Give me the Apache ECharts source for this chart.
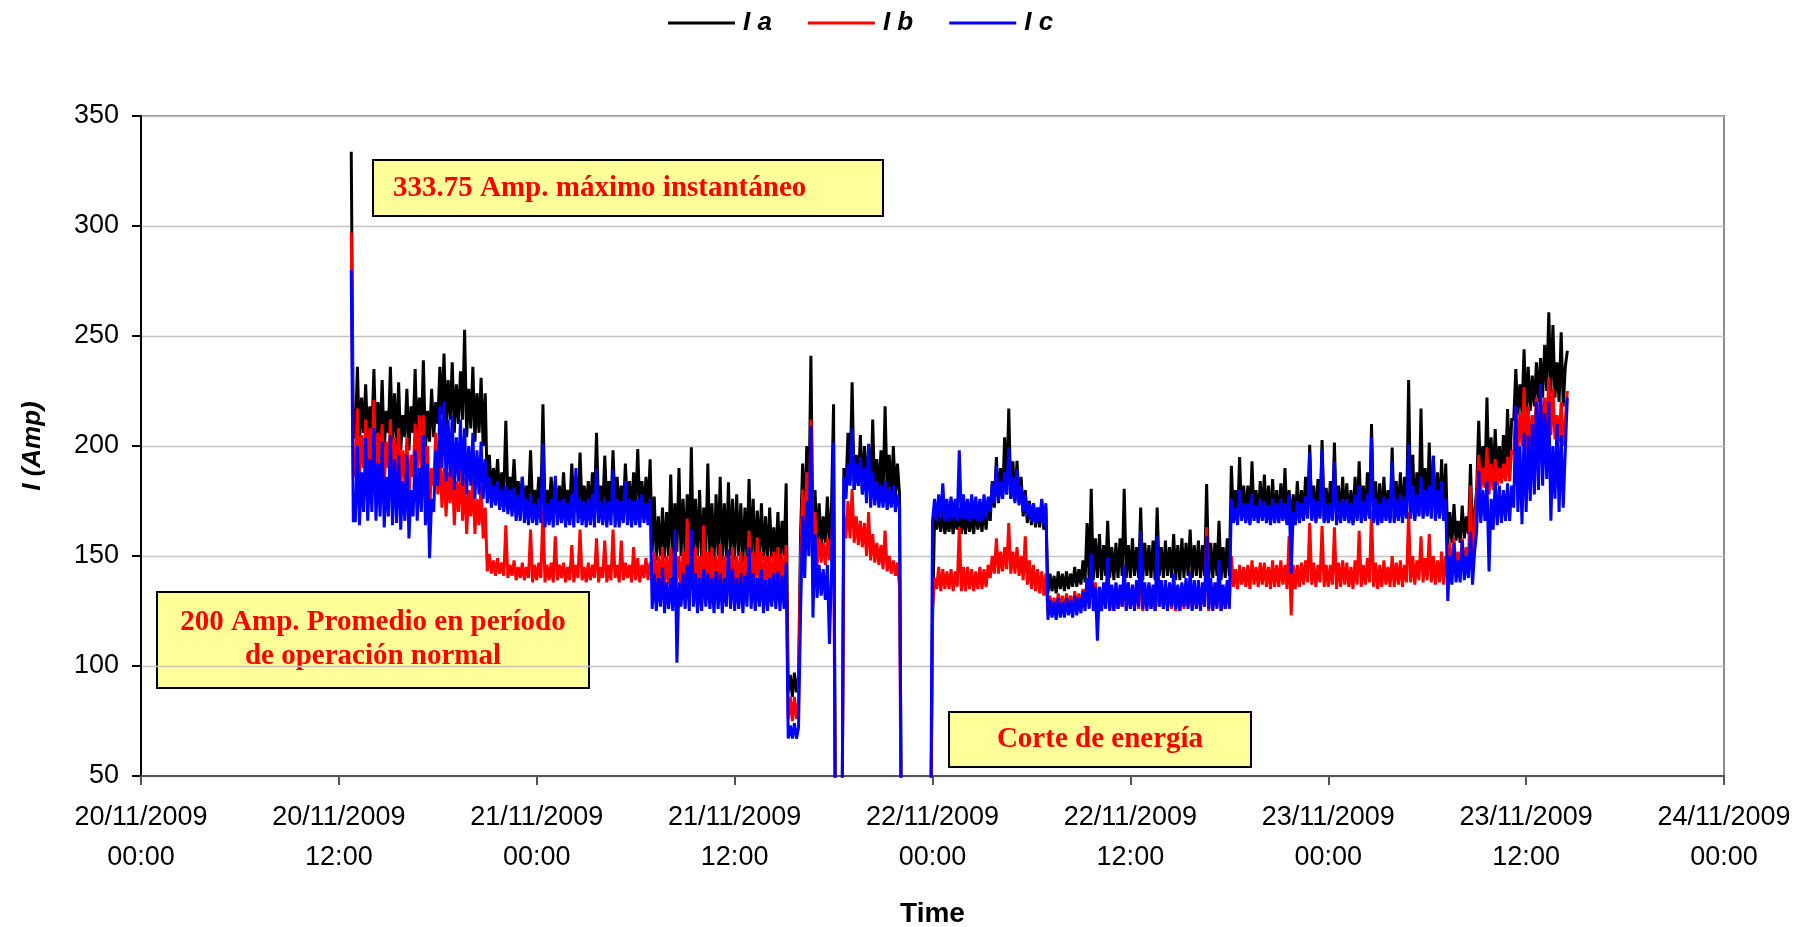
<!DOCTYPE html>
<html>
<head>
<meta charset="utf-8">
<title>Corriente por fase</title>
<script src="https://cdn.jsdelivr.net/npm/echarts@6/dist/echarts.min.js"></script>
<style>
  html, body { margin: 0; padding: 0; background: #fff; }
  #chart { width: 1816px; height: 927px; }
</style>
</head>
<body>
<div id="chart"></div>
<script>
// Phase currents (A), one reading every 7.5 min.
// Each line holds one hour (8 readings), hours counted from 20/11/2009 00:00.
const START_HOUR = 12;
const STEP_HOURS = 0.125;

const seriesNames = ['I a', 'I b', 'I c'];

const ia = [
  null, null, null, null, null, null, 333.75, 204,   // 12
  204, 236, 200, 222, 206, 228, 202, 218,            // 13
  205, 235, 200, 220, 204, 230, 198, 216,            // 14
  206, 236, 202, 224, 200, 229, 198, 214,            // 15
  204, 226, 198, 218, 206, 235, 200, 222,            // 16
  206, 239, 198, 216, 202, 226, 204, 220,            // 17
  210, 236, 214, 242, 208, 230, 212, 238,            // 18
  206, 228, 210, 234, 212, 252.8, 204, 226,          // 19
  208, 236, 202, 224, 206, 231, 200, 224,            // 20
  180, 196, 178, 190, 180, 194, 176, 188,            // 21
  178, 211.5, 176, 186, 178, 194, 174, 184,          // 22
  174, 186, 172, 182, 174, 198, 171, 180,            // 23
  172, 186, 174, 219, 171, 180, 172, 186,            // 24
  170, 184, 172, 182, 171, 188, 172, 180,            // 25
  171, 192, 172, 186, 170, 197, 171, 182,            // 26
  172, 184, 170, 188, 173, 206, 171, 182,            // 27
  170, 195.6, 172, 184, 171, 198, 172, 186,          // 28
  171, 182, 170, 192, 172, 184, 170, 188,            // 29
  172, 198.6, 170, 184, 171, 186, 170, 194,          // 30
  152, 177, 148, 168, 150, 172, 149, 170,            // 31
  150, 187, 148, 174, 152, 190, 150, 176,            // 32
  149, 178, 151, 199.4, 148, 176, 150, 180,          // 33
  148, 172, 150, 192, 149, 174, 147, 178,            // 34
  150, 186, 148, 174, 149, 183.5, 150, 176,          // 35
  148, 178, 150, 174, 147, 172, 149, 185,            // 36
  149, 176, 147, 170.6, 150, 174, 148, 168,          // 37
  147, 172, 149, 163, 148, 170, 147, 166,            // 38
  150, 183, 88, 96, 86, 97, 88, 95,                  // 39
  160, 192, 164, 200, 170, 241, 158, 180,            // 40
  155, 174, 154, 168, 156, 177, 155, 172,            // 41
  219, 0, 0, 0, 0, 190, 180, 206,                    // 42
  184, 229, 180, 196, 182, 205, 178, 200,            // 43
  178, 200, 177, 212, 176, 194, 178, 198,            // 44
  177, 218, 178, 196, 176, 200, 177, 192,            // 45
  178, 0, 0, 0, 0, 0, 0, 0,                          // 46
  0, 0, 0, 0, 0, 0, 0, 0,                            // 47
  119, 168, 162, 170, 161, 171, 160, 168,            // 48
  161, 170, 160, 169, 162, 172, 160, 170,            // 49
  160, 171, 161, 169, 160, 172, 162, 170,            // 50
  161, 172, 162, 174, 166, 184, 172, 195,            // 51
  174, 190, 176, 204, 178, 217, 176, 193,            // 52
  175, 193.3, 174, 186, 168, 180, 165, 175,          // 53
  164, 174, 163, 172, 163, 175, 162, 172,            // 54
  133, 142, 134, 141, 133, 143, 135, 142,            // 55
  134, 143, 135, 142, 136, 145, 136, 144,            // 56
  137, 148, 138, 165, 139, 180.5, 139, 158,          // 57
  140, 160, 139, 155, 141, 166, 140, 154,            // 58
  139, 156, 140, 158, 141, 180.5, 140, 155,          // 59
  140, 158, 141, 154, 140, 172, 139, 156,            // 60
  141, 155, 140, 157, 139, 172, 141, 154,            // 61
  140, 157, 141, 154, 140, 160, 139, 155,            // 62
  139, 158, 140, 156, 141, 162, 140, 155,            // 63
  141, 157, 140, 155, 141, 182.7, 139, 156,          // 64
  140, 156, 141, 166, 139, 154, 140, 158,            // 65
  141, 191, 166, 180, 165, 195, 167, 182,            // 66
  166, 182, 165, 193, 167, 180, 166, 184,            // 67
  167, 187, 166, 182, 165, 185, 166, 180,            // 68
  166, 183, 167, 190, 165, 180, 164, 178,            // 69
  165, 184, 166, 180, 167, 186, 168, 200.6,          // 70
  167, 182, 166, 185, 168, 202.7, 166, 181,          // 71
  166, 184, 167, 201.6, 165, 182, 166, 186,          // 72
  167, 183, 166, 180, 165, 186, 167, 193,            // 73
  166, 182, 167, 188, 168, 210, 166, 184,            // 74
  165, 183, 166, 186, 167, 180, 166, 199.3,          // 75
  166, 184, 167, 188, 166, 186, 168, 230,            // 76
  168, 196, 167, 188, 169, 217, 168, 190,            // 77
  169, 201.6, 168, 195.6, 167, 188, 168, 194,        // 78
  167, 192, 155, 170, 156, 173.6, 157, 166,          // 79
  156, 172.9, 158, 168, 160, 191.8, 157, 170,        // 80
  180, 211.5, 182, 200, 184, 222, 181, 204,          // 81
  183, 207.7, 185, 200, 186, 205, 188, 216.8,        // 82
  190, 212, 212, 235, 214, 228, 215, 244,            // 83
  214, 236, 216, 232, 218, 238, 220, 240,            // 84
  222, 246, 225, 260.8, 224, 255, 222, 238,          // 85
  220, 251.7, 218, 236, 243.3, null, null, null      // 86
];

const ib = [
  null, null, null, null, null, null, 297, 186,      // 12
  188, 217, 184, 205, 190, 212, 186, 208,            // 13
  190, 221, 185, 206, 188, 210, 182, 202,            // 14
  190, 212, 186, 204, 184, 208, 180, 198,            // 15
  184, 204, 176, 196, 186, 210, 188, 214,            // 16
  186, 214, 180, 200, 170, 190, 182, 206,            // 17
  178, 196, 172, 190, 168, 188, 174, 192,            // 18
  164, 184, 170, 190, 166, 186, 160, 180,            // 19
  168, 186, 160, 176, 164, 182, 158, 172,            // 20
  143, 151, 142, 148, 141, 149, 142, 147,            // 21
  141, 164, 140, 146, 141, 148, 139, 145,            // 22
  140, 147, 139, 145, 140, 162, 138, 146,            // 23
  139, 147, 140, 172, 138, 146, 139, 147,            // 24
  138, 159, 139, 146, 140, 147, 138, 145,            // 25
  139, 155, 138, 146, 140, 162, 139, 145,            // 26
  138, 147, 139, 146, 140, 158, 138, 145,            // 27
  140, 157, 138, 146, 139, 162, 140, 146,            // 28
  138, 157, 139, 147, 140, 146, 138, 154,            // 29
  139, 149, 138, 146, 140, 149, 139, 147,            // 30
  138, 152, 136, 150, 137, 154, 135, 150,            // 31
  137, 154, 135, 158, 138, 150, 136, 152,            // 32
  136, 167, 137, 156, 135, 154, 136, 150,            // 33
  135, 164, 137, 152, 136, 154, 134, 150,            // 34
  136, 155.4, 135, 150, 137, 152, 136, 154,          // 35
  135, 150, 136, 152, 134, 150, 136, 161.5,          // 36
  136, 152, 135, 158.5, 137, 152, 135, 150,          // 37
  134, 150, 136, 152, 135, 154, 136, 151,            // 38
  136, 155, 76, 86, 75, 86, 76, 84,                  // 39
  150, 180, 156, 188, 158, 212, 150, 170,            // 40
  146, 158, 147, 156, 146, 158, 148, 156,            // 41
  175, 0, 0, 0, 0, 168, 158, 175,                    // 42
  158, 180.4, 156, 168, 155, 166, 154, 165,          // 43
  150, 170, 148, 160, 147, 156, 146, 155,            // 44
  144, 161.5, 143, 150, 142, 148, 141, 147,          // 45
  136, 0, 0, 0, 0, 0, 0, 0,                          // 46
  0, 0, 0, 0, 0, 0, 0, 0,                            // 47
  126, 140, 135, 145, 134, 144, 135, 143,            // 48
  135, 144, 134, 143, 136, 163, 134, 145,            // 49
  134, 145, 135, 144, 134, 143, 135, 145,            // 50
  135, 144, 136, 146, 140, 150, 142, 158,            // 51
  142, 152, 143, 154, 144, 165, 142, 152,            // 52
  142, 154, 141, 150, 139, 159, 137, 148,            // 53
  135, 146, 134, 144, 133, 143, 132, 142,            // 54
  124, 132, 125, 131, 124, 133, 125, 132,            // 55
  125, 133, 126, 132, 125, 134, 126, 133,            // 56
  126, 135, 127, 140, 127, 146, 128, 138,            // 57
  126, 136, 125, 135, 127, 138, 126, 136,            // 58
  125, 137, 126, 135, 127, 140, 126, 136,            // 59
  126, 136, 127, 138, 126, 144, 125, 136,            // 60
  127, 137, 126, 136, 125, 139, 127, 135,            // 61
  126, 136, 127, 137, 126, 138, 125, 136,            // 62
  125, 137, 126, 136, 127, 139, 126, 135,            // 63
  127, 136, 126, 137, 127, 163, 125, 138,            // 64
  126, 137, 127, 139, 125, 136, 126, 138,            // 65
  127, 150, 136, 144, 135, 146, 137, 145,            // 66
  136, 146, 135, 148, 137, 145, 136, 147,            // 67
  137, 147, 136, 145, 135, 148, 136, 146,            // 68
  136, 148, 137, 146, 135, 159, 123, 146,            // 69
  135, 146, 136, 147, 137, 148, 138, 165,            // 70
  137, 147, 136, 146, 138, 163.7, 136, 146,          // 71
  136, 146, 137, 163, 135, 147, 136, 148,            // 72
  137, 147, 136, 145, 135, 148, 137, 161.5,          // 73
  136, 146, 137, 149, 138, 170.6, 136, 147,          // 74
  135, 146, 136, 148, 137, 145, 136, 150,            // 75
  136, 147, 137, 148, 136, 146, 138, 170,            // 76
  138, 150, 137, 148, 139, 159, 138, 149,            // 77
  139, 160, 138, 150, 137, 148, 138, 152,            // 78
  137, 150, 140, 156, 141, 158, 142, 152,            // 79
  143, 158, 144, 154, 145, 182, 142, 160,            // 80
  178, 196, 180, 190, 181, 199.4, 178, 192,          // 81
  180, 194, 182, 190, 183, 192, 184, 195,            // 82
  184, 198, 196, 218, 198, 215, 200, 226.7,          // 83
  198, 218, 200, 214, 202, 222, 204, 224,            // 84
  204, 222, 206, 231.2, 205, 226, 203, 214,          // 85
  202, 220, 200, 212, 225, null, null, null          // 86
];

const ic = [
  null, null, null, null, null, null, 280, 166,      // 12
  166, 200, 164, 188, 170, 204, 166, 194,            // 13
  170, 208, 166, 192, 168, 202, 163, 186,            // 14
  168, 205, 164, 194, 165, 196, 162, 184,            // 15
  166, 196, 158, 180, 168, 198, 166, 190,            // 16
  170, 205, 164, 192, 149, 176, 170, 198,            // 17
  182, 218, 190, 220, 184, 212, 186, 214,            // 18
  180, 204, 184, 212, 182, 208, 178, 200,            // 19
  182, 206, 176, 198, 178, 202, 176, 194,            // 20
  174, 186, 172, 182, 173, 184, 171, 180,            // 21
  170, 182, 169, 180, 168, 181, 166, 178,            // 22
  166, 186, 165, 176, 164, 178, 165, 174,            // 23
  164, 176, 165, 201, 163, 174, 164, 176,            // 24
  163, 186.5, 164, 175, 165, 176, 163, 174,          // 25
  164, 178, 163, 190, 165, 176, 164, 175,            // 26
  163, 176, 164, 178, 163, 190, 165, 175,            // 27
  164, 176, 163, 175, 164, 189, 163, 176,            // 28
  163, 175, 165, 184, 164, 176, 163, 175,            // 29
  164, 176, 163, 178, 165, 174, 164, 176,            // 30
  126, 142, 125, 140, 127, 145, 124, 138,            // 31
  126, 140, 125, 162, 101.5, 138, 127, 142,          // 32
  126, 146, 125, 162, 127, 142, 124, 140,            // 33
  125, 144, 127, 142, 126, 140, 124, 143,            // 34
  126, 142, 124, 140, 127, 153, 126, 144,            // 35
  125, 140, 126, 142, 124, 141, 127, 154,            // 36
  126, 142, 125, 140, 127, 144, 124, 139,            // 37
  125, 140, 127, 142, 126, 143, 125, 141,            // 38
  126, 147, 67, 73, 67, 74, 67, 72,                  // 39
  124, 168, 140, 175, 150, 209, 122, 160,            // 40
  131, 146, 132, 144, 130, 146, 110, 142,            // 41
  201.6, 0, 0, 0, 0, 186, 176, 192,                  // 42
  182, 208, 180, 192, 182, 195, 178, 190,            // 43
  174, 201, 172, 188, 173, 184, 172, 182,            // 44
  172, 184, 171, 180, 172, 182, 170, 178,            // 45
  172, 0, 0, 0, 0, 0, 0, 0,                          // 46
  0, 0, 0, 0, 0, 0, 0, 0,                            // 47
  166, 176, 166, 178, 167, 183, 166, 176,            // 48
  166, 177, 167, 176, 166, 198, 167, 178,            // 49
  167, 176, 166, 178, 167, 177, 166, 176,            // 50
  166, 178, 167, 177, 170, 183, 174, 191,            // 51
  175, 184, 176, 188, 178, 199.4, 176, 186,          // 52
  174, 189.5, 173, 182, 170, 178, 168, 174,          // 53
  166, 174, 165, 172, 166, 176, 164, 174,            // 54
  121, 130, 122, 129, 121, 131, 122, 129,            // 55
  122, 131, 123, 130, 122, 132, 123, 131,            // 56
  124, 134, 125, 140, 126, 151, 125, 136,            // 57
  111.5, 136, 125, 138, 126, 149.4, 125, 137,        // 58
  125, 138, 126, 137, 127, 146, 125, 138,            // 59
  126, 137, 125, 139, 127, 161.5, 126, 138,          // 60
  125, 138, 126, 137, 125, 159, 127, 139,            // 61
  126, 139, 125, 138, 127, 142, 126, 137,            // 62
  125, 138, 127, 140, 126, 143, 125, 139,            // 63
  126, 139, 125, 138, 127, 159, 126, 140,            // 64
  125, 138, 126, 148, 125, 137, 126, 139,            // 65
  126, 176, 165, 172, 164, 180, 166, 174,            // 66
  165, 174, 164, 178, 166, 173, 165, 176,            // 67
  166, 175, 165, 173, 164, 176, 165, 174,            // 68
  165, 176, 166, 174, 164, 178, 142, 170,            // 69
  164, 175, 165, 174, 166, 177, 167, 197,            // 70
  166, 176, 165, 175, 167, 198.6, 165, 174,          // 71
  165, 174, 166, 193, 164, 175, 165, 176,            // 72
  166, 176, 165, 174, 164, 178, 166, 182,            // 73
  165, 175, 166, 178, 167, 204, 165, 176,            // 74
  164, 174, 165, 177, 166, 176, 165, 193,            // 75
  165, 176, 166, 178, 165, 177, 167, 200.8,          // 76
  167, 182, 166, 178, 168, 186, 167, 180,            // 77
  168, 182, 167, 195.6, 166, 180, 167, 184,          // 78
  166, 176, 129.6, 150, 137, 156, 138, 148,          // 79
  138, 157, 139, 150, 140, 161, 137, 152,            // 80
  161, 188.8, 165, 180, 166, 184, 143, 176,          // 81
  162, 184, 164, 182, 165, 180, 166, 183,            // 82
  166, 182, 172, 218.3, 170, 200, 164.5, 206,        // 83
  170, 205, 175, 210, 178, 220, 180, 228.2,          // 84
  182, 215, 185, 220, 166, 200, 176, 210,            // 85
  170, 205, 172, 198, 222, null, null, null          // 86
];

// Tick labels of the time axis, one every 12 h
const xTickLabels = [
  '20/11/2009\n00:00', '20/11/2009\n12:00',
  '21/11/2009\n00:00', '21/11/2009\n12:00',
  '22/11/2009\n00:00', '22/11/2009\n12:00',
  '23/11/2009\n00:00', '23/11/2009\n12:00',
  '24/11/2009\n00:00'
];

// Text of the call-out boxes
const noteMax = '333.75 Amp. máximo instantáneo';
const noteAvg = '200 Amp. Promedio en período\nde operación normal';
const noteCut = 'Corte de energía';

function toPoints(values) {
  return values.map((v, i) => [START_HOUR + i * STEP_HOURS, v]);
}

const SANS = '"Liberation Sans", Arial, sans-serif';
const SERIF = '"Liberation Serif", "Times New Roman", serif';
const colors = ['#000000', '#ff0000', '#0000ff'];

const chart = echarts.init(document.getElementById('chart'), null, { renderer: 'canvas' });

function noteBox(x, y, w, h, text, tx, ty, align) {
  return {
    type: 'group',
    children: [
      {
        type: 'rect',
        shape: { x: x, y: y, width: w, height: h },
        style: { fill: '#ffff99', stroke: '#000', lineWidth: 2 }
      },
      {
        type: 'text',
        style: {
          x: tx, y: ty, text: text,
          fill: '#ff0000',
          font: 'bold 29px ' + SERIF,
          align: align, verticalAlign: 'middle',
          lineHeight: 34
        }
      }
    ]
  };
}

chart.setOption({
  animation: false,
  backgroundColor: '#ffffff',
  color: colors,
  legend: {
    data: seriesNames.map(n => ({ name: n, icon: 'rect' })),
    left: 663,
    top: 5,
    itemWidth: 67,
    itemHeight: 3,
    itemGap: 36,
    textStyle: {
      fontFamily: SANS, fontSize: 26, fontWeight: 'bold', fontStyle: 'italic',
      color: '#000', padding: [0, 0, 0, 3]
    }
  },
  grid: {
    left: 141, right: 92, top: 116, bottom: 151,
    outerBoundsMode: 'none',
    show: true, borderColor: '#8c8c8c', borderWidth: 2, backgroundColor: '#fff'
  },
  xAxis: {
    type: 'value',
    min: 0, max: 96, interval: 12,
    name: 'Time',
    nameLocation: 'middle',
    nameGap: 124,
    nameTextStyle: { fontFamily: SANS, fontSize: 28, fontWeight: 'bold', color: '#000' },
    axisLine: { show: true, onZero: false, lineStyle: { color: '#555', width: 2 } },
    axisTick: { show: true, inside: false, length: 9, lineStyle: { color: '#555', width: 2 } },
    axisLabel: {
      margin: 22,
      fontFamily: SANS, fontSize: 27, lineHeight: 40, color: '#000',
      formatter: v => xTickLabels[Math.round(v / 12)]
    },
    splitLine: { show: false }
  },
  yAxis: {
    type: 'value',
    min: 50, max: 350, interval: 50,
    name: 'I (Amp)',
    nameLocation: 'middle',
    nameGap: 95,
    nameRotate: 90,
    nameTextStyle: { fontFamily: SANS, fontSize: 26, fontWeight: 'bold', fontStyle: 'italic', color: '#000' },
    axisLine: { show: true, lineStyle: { color: '#000', width: 2 } },
    axisTick: { show: true, inside: false, length: 9, lineStyle: { color: '#000', width: 2 } },
    axisLabel: { margin: 22, fontFamily: SANS, fontSize: 27, color: '#000' },
    splitLine: { show: true, lineStyle: { color: '#c4c4c4', width: 1.3 } }
  },
  series: [ia, ib, ic].map((vals, k) => ({
    name: seriesNames[k],
    type: 'line',
    data: toPoints(vals),
    symbol: 'none',
    showSymbol: false,
    clip: true,
    lineStyle: { color: colors[k], width: 3, join: 'miter', miterLimit: 4 },
    itemStyle: { color: colors[k] },
    emphasis: { disabled: true }
  })),
  graphic: [
    noteBox(373, 160, 510, 56, noteMax, 393, 189, 'left'),
    noteBox(157, 592, 432, 96, noteAvg, 373, 640, 'center'),
    noteBox(949, 712, 302, 55, noteCut, 1100, 740, 'center')
  ]
});
</script>
</body>
</html>
